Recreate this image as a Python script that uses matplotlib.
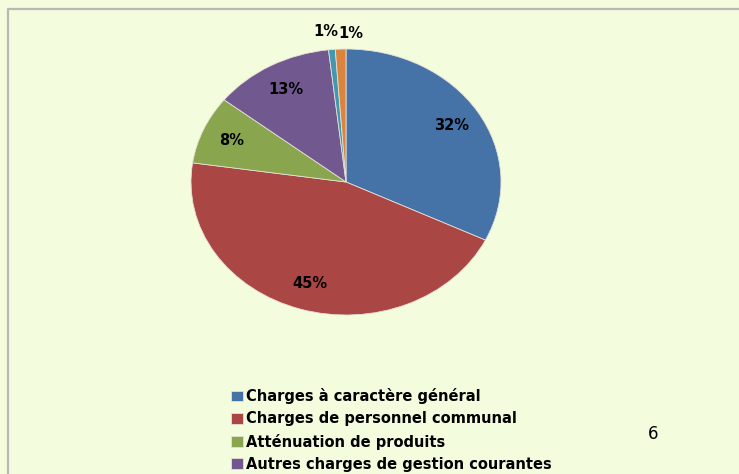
import numpy as np
import matplotlib.pyplot as plt
from matplotlib.lines import Line2D

# Répartition des charges de fonctionnement (en %)
categories = [
    "Charges à caractère général",
    "Charges de personnel communal",
    "Atténuation de produits",
    "Autres charges de gestion courantes",
    "Charges financières",
    "Charges exceptionnelles",
]
values = [32.2, 45.1, 8.3, 12.6, 0.7, 1.1]
colors = ["#4572A7", "#AA4643", "#89A54E", "#71588F", "#4198AF", "#DB843D"]
legend_shown = 4  # seules les 4 premières entrées sont visibles
page_number = "6"

W, H = 739, 474
bg = "#F3FCDD"

fig = plt.figure(figsize=(W / 100, H / 100), dpi=100, facecolor=bg)

# axes du camembert (légèrement étiré en largeur comme l'original)
ax = fig.add_axes([191 / W, 1 - 315 / H, 310 / W, 266 / H])
ax.set_facecolor(bg)

wedges, texts, autotexts = ax.pie(
    values, colors=colors, startangle=90, counterclock=False,
    autopct=lambda p: f"{p:.0f}%", pctdistance=0.8,
    wedgeprops=dict(edgecolor="#E6E0D8", linewidth=0.6),
    textprops=dict(fontsize=10.5, fontweight="bold", color="black"),
)
ax.set_aspect("auto")
ax.set_xlim(-1, 1)
ax.set_ylim(-1, 1)

# petites parts : étiquettes à l'extérieur, côte à côte
small = [i for i, v in enumerate(values) if v < 2]
shifts = [-0.03, 0.07]
for k, i in enumerate(small):
    w = wedges[i]
    ang = np.deg2rad((w.theta1 + w.theta2) / 2)
    autotexts[i].set_position((1.13 * np.cos(ang) + shifts[k],
                               1.14 * np.sin(ang) - 0.02 * k))

fig.legend(wedges[:legend_shown], categories[:legend_shown],
           loc="upper left", bbox_to_anchor=(231 / W, 1 - 388 / H),
           frameon=False, borderpad=0, borderaxespad=0,
           handlelength=0.85, handleheight=0.75, handletextpad=0.2,
           labelspacing=0.5,
           prop=dict(size=10.5, weight="bold"))

fig.text(653 / W, 1 - 434 / H, page_number, fontsize=12,
         ha="center", va="center", color="black")

# cadre gris (haut et gauche)
fig.add_artist(Line2D([8 / W, 8 / W, 1], [0, 1 - 9 / H, 1 - 9 / H],
                      transform=fig.transFigure, color="#B8B8B8", lw=1.6))

fig.savefig("out.png", dpi=100, facecolor=bg)
